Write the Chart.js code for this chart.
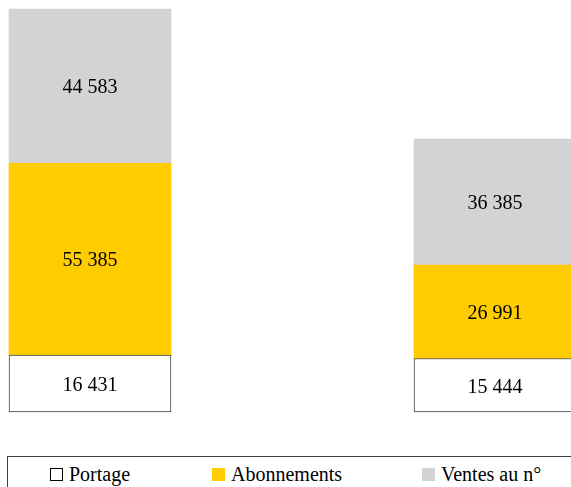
<!DOCTYPE html>
<html lang="fr">
<head>
<meta charset="utf-8">
<title>Diffusion</title>
<script src="https://cdn.jsdelivr.net/npm/chart.js@4/dist/chart.umd.min.js"></script>
<style>
    html, body { margin: 0; padding: 0; background: #fff; overflow: hidden; }
    body { width: 571px; height: 487px; position: relative; font-family: "Liberation Serif", "DejaVu Serif", serif; }
    #wrap { position: absolute; left: 0; top: 0; width: 571px; height: 413px; }
    #legend {
        position: absolute; left: 7px; top: 456px; width: 570px; height: 40px;
        border: 1px solid #404040; box-sizing: border-box;
    }
    .lg-item {
        position: absolute; top: 7px; font-size: 20px; line-height: 20px;
        color: #000; white-space: nowrap;
    }
    .lg-sw {
        display: inline-block; width: 13px; height: 13px; box-sizing: border-box;
        margin-right: 6px; vertical-align: baseline;
    }
</style>
</head>
<body>
<div id="wrap"><canvas id="chartDiffusion"></canvas></div>
<div id="legend"></div>

<script>
    "use strict";

    // ---- data ----
    const categories = ["1", "2"];
    const seriesNames = ["Portage", "Abonnements", "Ventes au n°"];
    const portage = [16431, 15444];
    const abonnements = [55385, 26991];
    const ventesNumero = [44583, 36385];

    const seriesColors = ["#ffffff", "#ffcc00", "#d3d3d3"];
    const seriesBorders = ["#404040", null, null];
    const legendLeft = [42, 204, 414]; // px inside legend box

    function fmt(v) {
        return String(v).replace(/\B(?=(\d{3})+(?!\d))/g, " ");
    }

    const seriesValues = [portage, abonnements, ventesNumero];
    const totals = categories.map((_, i) => seriesValues.reduce((s, arr) => s + arr[i], 0));

    const datasets = seriesValues.map((arr, k) => ({
        label: seriesNames[k],
        data: arr,
        backgroundColor: seriesColors[k],
        borderColor: seriesBorders[k] || seriesColors[k],
        borderWidth: seriesBorders[k] ? 1 : 0,
        borderSkipped: false,
        barThickness: 162,
        clip: false
    }));

    /* ---------------- value labels in each segment ---------------- */
    const segmentLabels = {
        id: "segmentLabels",
        afterDatasetsDraw(chart) {
            const ctx = chart.ctx;
            ctx.save();
            ctx.font = '20px "Liberation Serif", serif';
            ctx.fillStyle = "#000";
            ctx.textAlign = "center";
            ctx.textBaseline = "middle";
            chart.data.datasets.forEach((ds, di) => {
                const meta = chart.getDatasetMeta(di);
                meta.data.forEach((bar, i) => {
                    const { x, y, base } = bar.getProps(["x", "y", "base"], true);
                    ctx.fillText(fmt(ds.data[i]), x, (y + base) / 2 + 2);
                });
            });
            ctx.restore();
        }
    };

    new Chart(document.getElementById("chartDiffusion"), {
        type: "bar",
        data: { labels: categories, datasets },
        options: {
            responsive: true,
            maintainAspectRatio: false,
            animation: false,
            layout: { padding: { left: 90, right: 76, top: 9, bottom: 1 } },
            plugins: { legend: { display: false }, tooltip: { enabled: false } },
            scales: {
                x: { stacked: true, offset: false, display: false },
                y: { stacked: true, display: false, min: 0, max: Math.max(...totals) }
            }
        },
        plugins: [segmentLabels]
    });

    /* ---------------- legend (html) ---------------- */
    const legend = document.getElementById("legend");
    seriesNames.forEach((name, k) => {
        const item = document.createElement("div");
        item.className = "lg-item";
        item.style.left = legendLeft[k] + "px";
        const sw = document.createElement("span");
        sw.className = "lg-sw";
        sw.style.background = seriesColors[k];
        if (seriesBorders[k]) sw.style.border = "1px solid #000";
        item.appendChild(sw);
        item.appendChild(document.createTextNode(name));
        legend.appendChild(item);
    });
</script>
</body>
</html>
